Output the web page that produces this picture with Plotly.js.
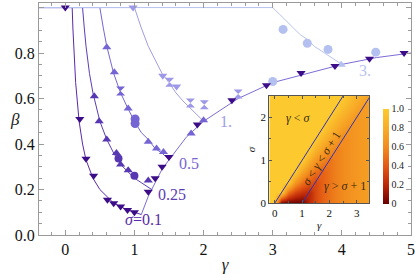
<!DOCTYPE html>
<html><head><meta charset="utf-8">
<script src="https://cdn.plot.ly/plotly-3.0.1.min.js"></script>
<style>html,body{margin:0;padding:0;background:#fff}#plot{width:415px;height:274px}</style>
</head><body><div id="plot"></div>
<script>
// ---- theory curves ----
const curve01G = [-0.38, 0.1, 0.11, 0.125, 0.15, 0.2, 0.25, 0.3, 0.4, 0.5, 0.6, 0.7, 0.8, 0.9, 1.0, 1.1];
const curve01B = [1, 1, 0.91, 0.8, 0.67, 0.5, 0.4, 0.33, 0.25, 0.2, 0.17, 0.14, 0.125, 0.11, 0.1, 0.09];
const curve025G = [-0.38, 0.25, 0.275, 0.3, 0.35, 0.4, 0.5, 0.6, 0.7, 0.8, 0.9, 1.0, 1.1, 1.25];
const curve025B = [1, 1, 0.91, 0.83, 0.71, 0.625, 0.5, 0.42, 0.36, 0.31, 0.28, 0.25, 0.23, 0.2];
const curve05G = [-0.38, 0.5, 0.55, 0.6, 0.7, 0.8, 0.9, 1.0, 1.1, 1.2, 1.3, 1.4, 1.5];
const curve05B = [1, 1, 0.91, 0.83, 0.71, 0.625, 0.56, 0.5, 0.45, 0.42, 0.38, 0.36, 0.33];
const curve1G = [-0.38, 1.0, 1.1, 1.2, 1.3, 1.4, 1.5, 1.6, 1.7, 1.8, 1.9, 2.0];
const curve1B = [1, 1, 0.91, 0.83, 0.77, 0.71, 0.67, 0.625, 0.59, 0.56, 0.53, 0.5];
const curve3G = [-0.38, 3.0, 3.1, 3.2, 3.3, 3.4, 3.5, 3.6, 3.7, 3.8, 3.9, 4.0];
const curve3B = [1, 1, 0.97, 0.94, 0.91, 0.88, 0.86, 0.83, 0.81, 0.79, 0.77, 0.75];
const envG = [1.1, 1.2, 1.3, 1.4, 1.5, 1.75, 2.0, 2.5, 3.0, 3.5, 4.0, 4.5, 5.0];
const envB = [0.09, 0.17, 0.23, 0.29, 0.33, 0.43, 0.5, 0.6, 0.67, 0.71, 0.75, 0.78, 0.8];

// ---- simulation markers ----
const darkDownG = [0.0, 0.21, 0.3, 0.41, 0.61, 0.7, 0.8, 0.9, 1.0, 1.2, 1.3, 1.4, 1.5, 1.91, 2.41, 2.91, 3.41, 3.9, 4.4, 4.9];
const darkDownB = [1.0, 0.51, 0.335, 0.26, 0.155, 0.14, 0.125, 0.11, 0.1, 0.19, 0.25, 0.3, 0.343, 0.486, 0.592, 0.658, 0.712, 0.743, 0.775, 0.8];
const s025UpG = [0.42, 0.49, 0.6, 0.74, 0.8, 0.91, 1.2];
const s025UpB = [0.61, 0.5, 0.42, 0.36, 0.31, 0.285, 0.24];
const s025CircG = [0.77, 1.0];
const s025CircB = [0.336, 0.26];
const s05UpG = [0.6, 0.71, 0.91, 1.2, 1.32, 1.42, 1.82, 2.0];
const s05UpB = [0.826, 0.716, 0.556, 0.41, 0.38, 0.365, 0.446, 0.504];
const s05HourG = [0.8];
const s05HourB = [0.633];
const s05CircG = [1.01, 1.01];
const s05CircB = [0.51, 0.49];
const s1DownG = [0.98, 1.41, 1.61];
const s1DownB = [1.0, 0.7, 0.653];
const s1HourG = [1.51, 1.81, 2.01, 2.5];
const s1HourB = [0.672, 0.58, 0.573, 0.62];
const s3CircG = [3.0, 3.15, 3.5, 3.8, 4.49];
const s3CircB = [0.675, 0.904, 0.843, 0.816, 0.804];
const s3UpG = [3.99];
const s3UpB = [0.749];

// ---- inset heat map ----
const gammaGrid = [-0.2, 0, 0.25, 0.5, 0.75, 1.0, 1.25, 1.5, 1.75, 2.0, 2.25, 2.5, 2.75, 3.0, 3.25, 3.5];
const sigmaGrid = [0, 0.25, 0.5, 0.75, 1.0, 1.25, 1.5, 1.75, 2.0, 2.25, 2.5];
const betaGrid = [
 [1,1,0,0,0,0,0.2,0.33,0.43,0.5,0.56,0.6,0.64,0.67,0.69,0.71],
 [1,1,1,0.5,0.33,0.25,0.2,0.33,0.43,0.5,0.56,0.6,0.64,0.67,0.69,0.71],
 [1,1,1,1,0.67,0.5,0.4,0.33,0.43,0.5,0.56,0.6,0.64,0.67,0.69,0.71],
 [1,1,1,1,1,0.75,0.6,0.5,0.43,0.5,0.56,0.6,0.64,0.67,0.69,0.71],
 [1,1,1,1,1,1,0.8,0.67,0.57,0.5,0.56,0.6,0.64,0.67,0.69,0.71],
 [1,1,1,1,1,1,1,0.83,0.71,0.63,0.56,0.6,0.64,0.67,0.69,0.71],
 [1,1,1,1,1,1,1,1,0.86,0.75,0.67,0.6,0.64,0.67,0.69,0.71],
 [1,1,1,1,1,1,1,1,1,0.88,0.78,0.7,0.64,0.67,0.69,0.71],
 [1,1,1,1,1,1,1,1,1,1,0.89,0.8,0.73,0.67,0.69,0.71],
 [1,1,1,1,1,1,1,1,1,1,1,0.9,0.82,0.75,0.69,0.71],
 [1,1,1,1,1,1,1,1,1,1,1,1,0.91,0.83,0.77,0.71]
];
const lineLowG = [0, 2.5];
const lineHighG = [1, 3.5];
const lineS = [0, 2.5];

const curveLabels = ['<i>σ</i>=0.1', '0.25', '0.5', '1.', '3.'];
const labelG = [1.13, 1.55, 1.79, 2.33, 4.33];
const labelB = [0.066, 0.18, 0.315, 0.5, 0.725];

const C01 = '#3d0c88', C025 = '#5838b2', C05 = '#7564d4', C1 = '#9e98e8', C3 = '#b4c0ef', CENV = '#7c6cd6';
const LC = [ '#5a2aa8', '#5c3cb4', '#7766d2', '#a29ce8', '#b8c4f0'];
const serif = 'Liberation Serif';

function line(g, b, color) {
  return {x: g, y: b, mode: 'lines', line: {color: color, width: 1}, xaxis: 'x', yaxis: 'y', hoverinfo: 'skip', showlegend: false};
}
function mk(g, b, color, sym, size) {
  return {x: g, y: b, mode: 'markers', marker: {color: color, symbol: sym, size: size, line: {width: 0}}, xaxis: 'x', yaxis: 'y', showlegend: false};
}

const traces = [
  line(envG, envB, CENV),
  line(curve01G, curve01B, LC[0]),
  line(curve025G, curve025B, LC[1]),
  line(curve05G, curve05B, LC[2]),
  line(curve1G, curve1B, LC[3]),
  line(curve3G, curve3B, LC[4]),
  mk(s3CircG, s3CircB, C3, 'circle', 9),
  mk(s3UpG, s3UpB, C3, 'triangle-up', 8),
  mk(s1DownG, s1DownB, C1, 'triangle-down', 8),
  mk(s1HourG, s1HourB, C1, 'hourglass', 9),
  mk(s05CircG, s05CircB, C05, 'circle', 9),
  mk(s05UpG, s05UpB, C05, 'triangle-up', 8),
  mk(s05HourG, s05HourB, C05, 'hourglass', 9),
  mk(s025CircG, s025CircB, C025, 'circle', 8),
  mk(s025UpG, s025UpB, C025, 'triangle-up', 8),
  mk(darkDownG, darkDownB, C01, 'triangle-down', 8),
  {type: 'heatmap', x: gammaGrid, y: sigmaGrid, z: betaGrid, xaxis: 'x2', yaxis: 'y2', zmin: 0, zmax: 1, zsmooth: 'best',
   colorscale: [[0,'#6a0000'],[0.2,'#bc2808'],[0.4,'#e45a14'],[0.6,'#f28c1e'],[0.8,'#f8ae28'],[1,'#fcca2e']],
   colorbar: {x: 0.924, xanchor: 'left', y: 0.134, yanchor: 'bottom', len: 0.41, lenmode: 'fraction', thickness: 6,
              outlinewidth: 0, tickvals: [0,0.2,0.4,0.6,0.8,1], ticktext: ['0','0.2','0.4','0.6','0.8','1.0'],
              ticks: '', tickfont: {family: serif, size: 10, color: '#222'}, xpad: 0, ypad: 0}, hoverinfo: 'skip'},
  {x: lineLowG, y: lineS, mode: 'lines', line: {color: '#3434b0', width: 1}, xaxis: 'x2', yaxis: 'y2', showlegend: false},
  {x: lineHighG, y: lineS, mode: 'lines', line: {color: '#3434b0', width: 1}, xaxis: 'x2', yaxis: 'y2', showlegend: false}
];

const annotations = curveLabels.map((t, i) => ({x: labelG[i], y: labelB[i], xref: 'x', yref: 'y', text: t, showarrow: false,
  font: {family: serif, size: 16, color: LC[i]}}));
annotations.push({x: -0.083, y: 0.5, xref: 'paper', yref: 'paper', text: '<i>β</i>', showarrow: false, font: {family: serif, size: 17, color: '#222'}});
annotations.push({x: 0.86, y: 1.98, xref: 'x2', yref: 'y2', text: '<i>γ</i> < <i>σ</i>', showarrow: false, font: {family: serif, size: 12, color: '#3a2a10'}});
annotations.push({x: 1.72, y: 1.05, xref: 'x2', yref: 'y2', text: '<i>σ</i> < <i>γ</i> < <i>σ</i> + 1', textangle: -57.6, showarrow: false, font: {family: serif, size: 12, color: '#3a2a10'}});
annotations.push({x: 2.57, y: 0.39, xref: 'x2', yref: 'y2', text: '<i>γ</i> > <i>σ</i> + 1', showarrow: false, font: {family: serif, size: 12, color: '#3a2a10'}});

const frame = {showline: true, linecolor: '#9a9a9a', linewidth: 1, mirror: 'ticks', ticks: 'inside', ticklen: 5, tickcolor: '#9a9a9a',
  showgrid: false, zeroline: false, tickfont: {family: serif, size: 16, color: '#111'}};

const layout = {
  width: 415, height: 274, margin: {l: 39, r: 4, t: 3, b: 39}, paper_bgcolor: '#fff', plot_bgcolor: '#fff', showlegend: false,
  font: {family: serif},
  xaxis: Object.assign({}, frame, {range: [-0.38, 5.0], tickvals: [0,1,2,3,4,5], minor: {dtick: 0.2, tick0: 0, ticks: 'inside', ticklen: 3, tickcolor: '#9a9a9a'},
    title: {text: '<i>γ</i>', font: {family: serif, size: 17, color: '#222'}, standoff: 2}}),
  yaxis: Object.assign({}, frame, {range: [0, 1.02], tickvals: [0,0.2,0.4,0.6,0.8,1.0], tickformat: '.1f', minor: {dtick: 0.05, tick0: 0, ticks: 'inside', ticklen: 3, tickcolor: '#9a9a9a'}}),
  xaxis2: {domain: [0.619, 0.887], anchor: 'y2', range: [-0.2, 3.45], tickvals: [0,1,2,3], showline: true, linecolor: '#555', mirror: 'ticks',
    ticks: 'inside', ticklen: 3, tickcolor: '#555', showgrid: false, zeroline: false, tickfont: {family: serif, size: 11, color: '#111'},
    minor: {dtick: 0.5, ticks: 'inside', ticklen: 2, tickcolor: '#555'},
    title: {text: '<i>γ</i>', font: {family: serif, size: 11, color: '#222'}, standoff: 2}},
  yaxis2: {domain: [0.137, 0.599], anchor: 'x2', range: [0, 2.5], tickvals: [0,1,2], showline: true, linecolor: '#555', mirror: 'ticks',
    ticks: 'inside', ticklen: 3, tickcolor: '#555', showgrid: false, zeroline: false, tickfont: {family: serif, size: 11, color: '#111'},
    minor: {dtick: 0.5, ticks: 'inside', ticklen: 2, tickcolor: '#555'},
    title: {text: '<i>σ</i>', font: {family: serif, size: 11, color: '#222'}, standoff: 2}},
  annotations: annotations
};

Plotly.newPlot('plot', traces, layout, {staticPlot: true, displayModeBar: false});
</script></body></html>
